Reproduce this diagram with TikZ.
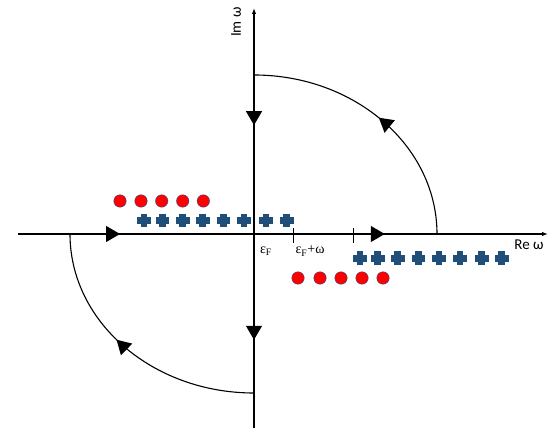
\documentclass[tikz,border=0pt]{standalone}
\usepackage{fontspec}
\setmainfont{Carlito}
\newfontfamily\symfont{Liberation Serif}
\usetikzlibrary{arrows.meta,decorations.markings}
\definecolor{crossblue}{RGB}{31,78,121}
\definecolor{dotred}{RGB}{255,0,0}
\definecolor{dotedge}{RGB}{47,82,143}
\tikzset{
  axisline/.style={line width=1.1pt,black},
  bigtri/.style={decoration={markings,
      mark=at position #1 with {\arrow{Triangle[length=14pt,width=16pt]}}},
      postaction={decorate}},
  dot/.style={circle,fill=dotred,draw=dotedge,line width=0.4pt,minimum size=12.5pt,inner sep=0pt},
  plusmark/.pic={\draw[crossblue,line width=6.6pt] (-6.8,0)--(6.8,0) (0,-6.8)--(0,6.8);},
  lab/.style={font=\fontsize{15}{17}\selectfont,inner sep=0pt},
  eps/.style={font=\symfont\fontsize{14}{16}\selectfont,inner sep=0pt}
}
\begin{document}
\begin{tikzpicture}[x=1pt,y=-1pt]
\useasboundingbox (0,0) rectangle (554,430);
\coordinate (O) at (254,234);
\coordinate (xs) at (18,234);
\coordinate (xe) at (548,234);
\coordinate (ys) at (254,428);
\coordinate (ye) at (254,8);
\coordinate (ur) at (437,234);
\coordinate (lb) at (254,393);
\coordinate (t1a) at (293,228); \coordinate (t1b) at (293,243);
\coordinate (t2a) at (353,228); \coordinate (t2b) at (353,243);
% axes
\draw[axisline,-{Latex[length=6pt,width=4.5pt]},
  decoration={markings,
    mark=at position 0.1925 with {\arrow{Triangle[length=14pt,width=16pt]}},
    mark=at position 0.692 with {\arrow{Triangle[length=14pt,width=16pt]}}},
  postaction={decorate}] (xs) -- (xe);
\draw[axisline,{Latex[length=6pt,width=4.5pt]}-,
  decoration={markings,
    mark=at position 0.279 with {\arrow{Triangle[length=14pt,width=16pt]}},
    mark=at position 0.79 with {\arrow{Triangle[length=14pt,width=16pt]}}},
  postaction={decorate}] (ye) -- (ys);
% contour arcs
\draw[axisline,bigtri=0.5] (ur) arc[start angle=0,end angle=-90,x radius=183,y radius=159];
\draw[axisline,bigtri=0.56] (lb) arc[start angle=90,end angle=180,x radius=184,y radius=159];
% ticks
\draw[line width=0.6pt] (t1a) -- (t1b);
\draw[line width=0.6pt] (t2a) -- (t2b);
% labels
\node[lab,rotate=90] (imlab) at (236,22) {Im ω};
\node[lab] (relab) at (529,245) {Re ω};
\node[eps] (ef) at (266,251) {ε\textsubscript{F}};
\node[eps] (efw) at (310,251) {ε\textsubscript{F}+ω};
% poles
\foreach \x [count=\i] in {120,141,161.7,182.7,203.3}
  \node[dot] (ra\i) at (\x,201) {};
\foreach \x [count=\i] in {298,320,341,362,383}
  \node[dot] (rb\i) at (\x,278) {};
\foreach \x [count=\i] in {144,162.3,182.7,202.7,223.3,244,266,286.7}
  \pic (ca\i) at (\x,220.7) {plusmark};
\foreach \x [count=\i] in {360,377.7,397.7,418.3,439,460,481.7,501.7}
  \pic (cb\i) at (\x,258.3) {plusmark};
\end{tikzpicture}
\end{document}
